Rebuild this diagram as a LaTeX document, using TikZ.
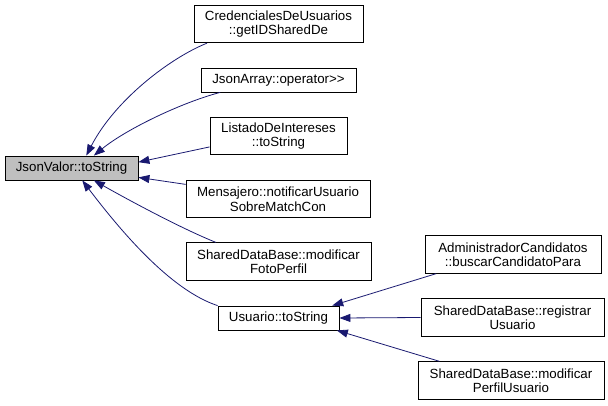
\documentclass[tikz,border=0pt]{standalone}
\usepackage{fontspec}
\setmainfont{Liberation Sans}
\usetikzlibrary{arrows.meta}
\definecolor{edgeblue}{HTML}{191970}
\definecolor{hilite}{HTML}{BFBFBF}

\begin{document}
\begin{tikzpicture}[
  x=1pt, y=-1pt,
  fn/.style={draw=black, line width=0.8pt, font=\fontsize{13.3}{14.5}\selectfont, align=center, inner sep=0pt, minimum width=#1},
  one/.style={minimum height=24pt},
  two/.style={minimum height=37.5pt},
  call/.style={{Triangle[length=11pt,width=8pt]}-, draw=edgeblue, line width=0.8pt}
]
  \useasboundingbox (0,0) rectangle (608,405);

  % function of interest
  \node[fn=133pt, one, fill=hilite] (jv) at (71.5,168) {JsonValor::toString};

  % direct callers
  \node[fn=169pt, two] (cred) at (278.5,24) {CredencialesDeUsuarios\\::getIDSharedDe};
  \node[fn=155pt, one] (jarr) at (278.5,80) {JsonArray::operator>{}>};
  \node[fn=137pt, two] (lis) at (278.5,136) {ListadoDeIntereses\\::toString};
  \node[fn=184pt, two] (men) at (278,199) {Mensajero::notificarUsuario\\SobreMatchCon};
  \node[fn=185pt, two] (foto) at (278.5,261.5) {SharedDataBase::modificar\\FotoPerfil};
  \node[fn=121pt, one] (usu) at (278.5,318) {Usuario::toString};

  % callers of Usuario::toString
  \node[fn=176pt, two] (adm) at (513,254.5) {AdministradorCandidatos\\::buscarCandidatoPara};
  \node[fn=183pt, two] (reg) at (512.5,317.5) {SharedDataBase::registrar\\Usuario};
  \node[fn=186pt, two] (perf) at (511,380.5) {SharedDataBase::modificar\\PerfilUsuario};

  \draw[call] (jv.40) .. controls (115,100) and (170,58) .. (cred.195.5);
  \draw[call] (jv.29) .. controls (125,130) and (180,103) .. (jarr.192);
  \draw[call] (jv.5) -- (lis.189);
  \draw[call] (jv.-8) -- (men.171.3);
  \draw[call] (jv.-29) .. controls (125,198) and (180,228) .. (foto.163);
  \draw[call] (jv.-49) .. controls (120,230) and (170,290) .. (usu.north west);

  \draw[call] (usu.13.9) -- (adm.194.2);
  \draw[call] (usu.east) -- (reg.west);
  \draw[call] (usu.-12.4) -- (perf.165.4);
\end{tikzpicture}
\end{document}
